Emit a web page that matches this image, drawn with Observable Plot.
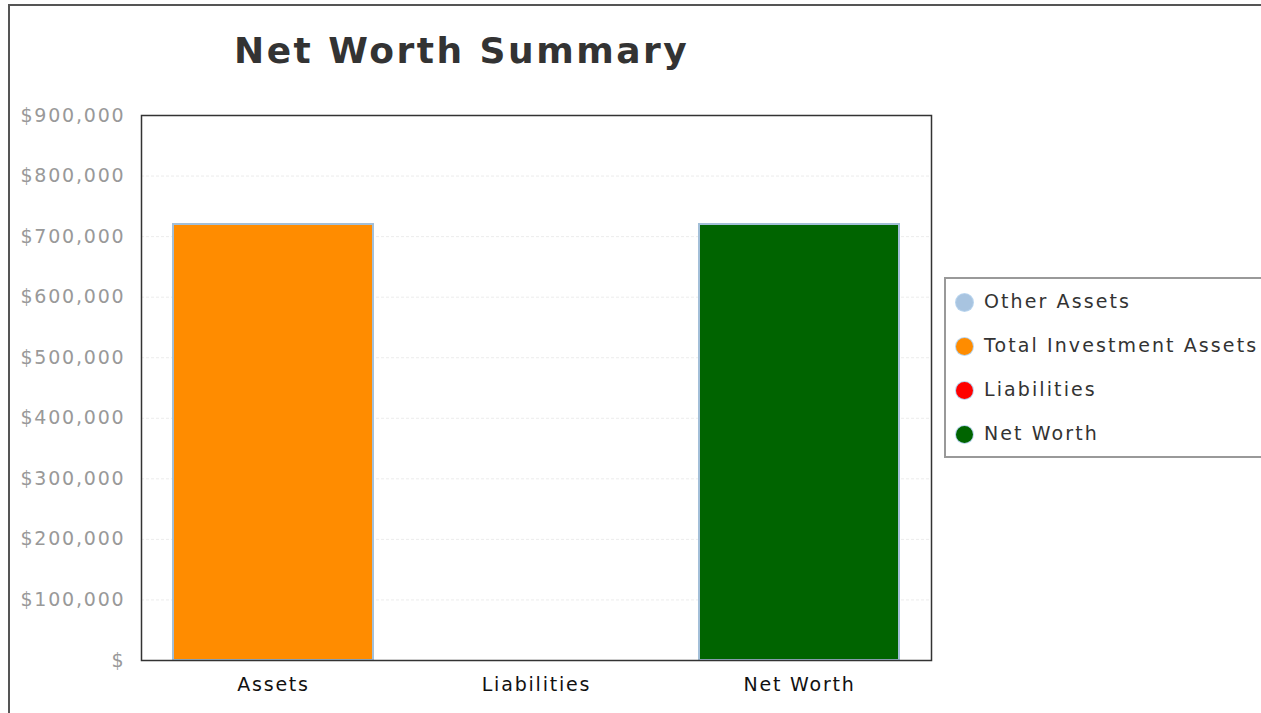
<!DOCTYPE html>
<html><head><meta charset="utf-8">
<script src="https://cdn.jsdelivr.net/npm/d3@7"></script>
<script src="https://cdn.jsdelivr.net/npm/@observablehq/plot@0.6"></script>
<style>
html,body{margin:0;padding:0;background:#fff;overflow:hidden;}
body{width:1261px;height:713px;position:relative;font-family:"DejaVu Sans",Verdana,sans-serif;}
#frame{position:absolute;left:8px;top:4px;width:1400px;height:900px;border:2px solid #555;box-sizing:border-box;}
#title{position:absolute;left:234px;top:30px;font-size:36px;font-weight:bold;color:#333;letter-spacing:2.5px;white-space:nowrap;}
#chart{position:absolute;left:0;top:0;}
#legend{position:absolute;left:944px;top:277px;width:400px;height:181px;border:2px solid #999;box-sizing:border-box;background:#fff;}
.item{position:absolute;left:0;height:24px;white-space:nowrap;font-size:19px;letter-spacing:2.1px;color:#333;}
.dot{position:absolute;left:10px;top:3px;width:17px;height:17px;border-radius:50%;box-shadow:0 0 0 1px #b8d4ee;}
.lab{position:absolute;left:38px;top:-1px;}
</style></head>
<body>
<div id="frame"></div>
<div id="chart"></div>
<div id="title">Net Worth Summary</div>
<div id="legend"></div>
<script>
const categories = ["Assets", "Liabilities", "Net Worth"];
const seriesNames = ["Other Assets", "Total Investment Assets", "Liabilities", "Net Worth"];
const seriesColors = ["#a8c4e0", "#ff8c00", "#ff0000", "#006400"];
const otherAssets = [0, 0, 0];
const investmentAssets = [720000, 0, 0];
const liabilities = [0, 0, 0];
const netWorth = [0, 0, 720000];
const yTicks = [0, 100000, 200000, 300000, 400000, 500000, 600000, 700000, 800000, 900000];

const seriesValues = [otherAssets, investmentAssets, liabilities, netWorth];
const rows = [];
seriesNames.forEach((s, i) => categories.forEach((c, j) => {
  const v = seriesValues[i][j];
  if (v > 0) rows.push({category: c, series: s, value: v});
}));

const fmt = d => d === 0 ? "$" : "$" + d3.format(",")(d);

const plot = Plot.plot({
  width: 940,
  height: 713,
  marginLeft: 141,
  marginRight: 9,
  marginTop: 115,
  marginBottom: 53,
  style: {fontFamily: "DejaVu Sans, Verdana, sans-serif", background: "transparent", overflow: "visible"},
  x: {domain: categories, paddingInner: 0.24, paddingOuter: 0.12, label: null},
  y: {domain: [0, 900000], label: null},
  color: {domain: seriesNames, range: seriesColors},
  marks: [
    Plot.gridY(yTicks, {stroke: "#ececec", strokeOpacity: 1, strokeDasharray: "3,2"}),
    Plot.barY(rows, {x: "category", y: "value", fill: "series", stroke: "#a3bfd8", strokeWidth: 2, order: seriesNames}),
    Plot.axisY({ticks: yTicks, tickFormat: fmt, tickSize: 0, tickPadding: 16, fontSize: 19, fill: "#999", label: null}),
    Plot.axisX({tickSize: 0, tickPadding: 17, fontSize: 19, fill: "#111", label: null}),
    Plot.frame({stroke: "#333", strokeWidth: 1.5})
  ]
});
plot.querySelectorAll("text").forEach(t => t.style.letterSpacing = "1.8px");
document.getElementById("chart").appendChild(plot);

const legend = document.getElementById("legend");
seriesNames.forEach((s, i) => {
  const it = document.createElement("div");
  it.className = "item";
  it.style.top = (12 + i * 44) + "px";
  it.innerHTML = `<span class="dot" style="background:${seriesColors[i]}"></span><span class="lab">${s}</span>`;
  legend.appendChild(it);
});
</script>
</body></html>
